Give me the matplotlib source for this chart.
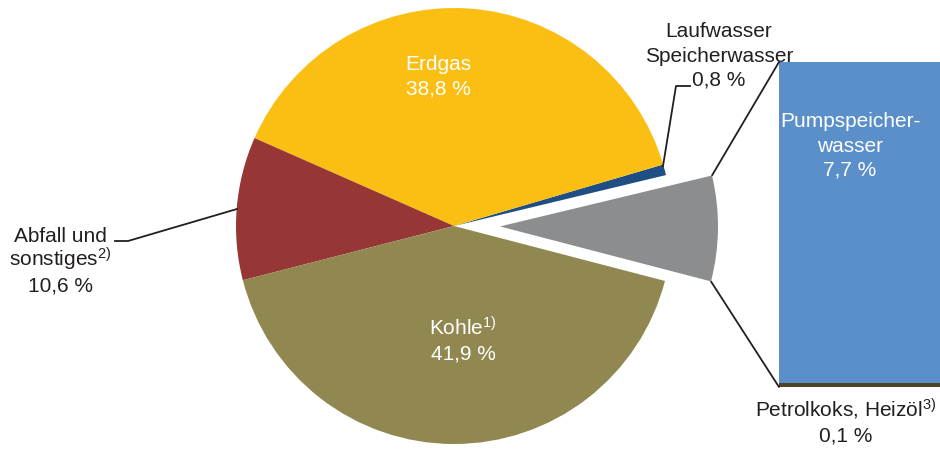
import matplotlib.pyplot as plt
from matplotlib.patches import ConnectionPatch
import numpy as np

plt.rcParams['font.family'] = ['Liberation Sans', 'DejaVu Sans']
plt.rcParams['mathtext.fontset'] = 'custom'
plt.rcParams['mathtext.rm'] = 'Liberation Sans'
plt.rcParams['mathtext.it'] = 'Liberation Sans'

# Hauptkreis (Anteile in %), Reihenfolge gegen den Uhrzeigersinn
pie_labels = ['Pumpspeicher + Petrolkoks', 'Laufwasser Speicherwasser', 'Erdgas',
              'Abfall und sonstiges', 'Kohle']
pie_values = [7.8, 0.8, 38.8, 10.6, 41.9]
pie_colors = ['#8c8d8f', '#1f4e84', '#fbbf14', '#973735', '#918851']

# Balken (Aufteilung des grauen Segments)
bar_labels = ['Petrolkoks, Heizöl', 'Pumpspeicherwasser']
bar_values = [0.1, 7.7]
bar_colors = ['#4a4328', '#5b8fc9']

W, H = 940, 449
fs = 15
dark = '#231f20'

fig = plt.figure(figsize=(W / 100, H / 100), dpi=100)
ax = fig.add_axes([0, 0, 1, 1])


def label(x, y, lines, color, step=24.5):
    # Jede Zeile einzeln auf ihrer Grundlinie, gleicher Zeilenabstand
    for i, t in enumerate(lines):
        ax.text(x, H - (y + 6 + i * step), t, color=color, fontsize=fs,
                ha='center', va='baseline')


cx, cy, r = 454, H - 226, 218
wedges, _ = ax.pie(pie_values, colors=pie_colors, startangle=-14.6,
                   center=(cx, cy), radius=r, explode=[46, 0, 0, 0, 0],
                   wedgeprops=dict(linewidth=0))
ax.set_xlim(0, W)
ax.set_ylim(0, H)
ax.set_aspect('equal')
ax.axis('off')

label(438, 64, ['Erdgas', '38,8 %'], 'white')
label(463, 329, ['Kohle$^{\\mathrm{1)}}$', '41,9 %'], 'white')
label(60, 236, ['Abfall und', 'sonstiges$^{\\mathrm{2)}}$', '10,6 %'], dark)
label(719, 31, ['Laufwasser', 'Speicherwasser', '0,8 %'], dark)
label(850, 121, ['Pumpspeicher-', 'wasser', '7,7 %'], 'white')
label(846, 411, ['Petrolkoks, Heizöl$^{\\mathrm{3)}}$', '0,1 %'], dark)

# Führungslinien
ax.plot([115, 128, 237], [H - 241, H - 241, H - 209], color=dark, lw=1.3)
ax.plot([663, 676, 690], [H - 166, H - 86, H - 86], color=dark, lw=1.3)

# Balken rechts
bax = fig.add_axes([779 / W, 62 / H, 165 / W, 325 / H])
bottom = 0
for val, col in zip(bar_values, bar_colors):
    bax.bar(0, val, bottom=bottom, width=1, color=col, linewidth=0)
    bottom += val
bax.set_xlim(-0.5, 0.5)
bax.set_ylim(0, sum(bar_values))
bax.axis('off')
ax.set_zorder(bax.get_zorder() + 1)
ax.patch.set_visible(False)

# Verbindungslinien vom grauen Segment zum Balken
w = wedges[0]
wx, wy = w.center
for ang, yb in [(w.theta2, sum(bar_values)), (w.theta1, 0)]:
    px = wx + r * np.cos(np.radians(ang))
    py = wy + r * np.sin(np.radians(ang))
    con = ConnectionPatch(xyA=(px, py), coordsA=ax.transData,
                          xyB=(-0.5, yb), coordsB=bax.transData,
                          color=dark, lw=1.3)
    fig.add_artist(con)

fig.savefig('out.png', dpi=100)
